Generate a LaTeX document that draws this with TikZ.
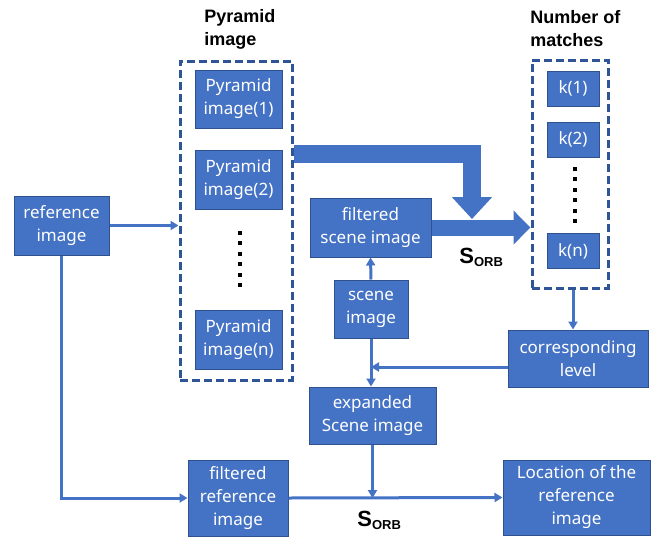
\documentclass[tikz,border=0pt]{standalone}
\usepackage{fontspec}
\setmainfont{Noto Sans}
\newfontfamily\headfont{Liberation Sans}
\usetikzlibrary{arrows.meta}

\definecolor{boxblue}{HTML}{4472C4}
\definecolor{boxedge}{HTML}{2F528F}
\definecolor{grpedge}{HTML}{2F5597}

\begin{document}
\begin{tikzpicture}[x=0.5pt, y=-0.5pt,
    blk/.style={draw=boxedge, line width=0.5pt, fill=boxblue, text=white, align=center, inner sep=0pt, node font=\fontsize{8.5}{11.5}\selectfont},
    grp/.style={draw=grpedge, line width=1.5pt, dash pattern=on 4pt off 2pt, inner sep=0pt},
    ttl/.style={anchor=west, align=left, inner sep=0pt, node font=\headfont\bfseries\fontsize{9}{11.5}\selectfont},
    sorb/.style={anchor=base west, inner sep=0pt, node font=\headfont\bfseries\fontsize{11}{12}\selectfont},
    link/.style={draw=boxblue, line width=1.5pt, -{Triangle[length=4pt,width=4.5pt]}},
    bigarr/.style={draw=boxblue, line width=9pt, line join=miter, -{Triangle[length=11pt,width=19.5pt]}},
    midarr/.style={draw=boxblue, line width=8pt, -{Triangle[length=8.5pt,width=16.5pt]}}]

    \useasboundingbox (0,0) rectangle (660,537);

    % pyramid column
    \node[grp, minimum width=56pt, minimum height=159.5pt] (pyrgrp) at (236,220.5) {};
    \node[ttl] (pyrttl) at (204,29) {Pyramid\\image};
    \node[blk, minimum width=43.5pt, minimum height=29pt] (pyr1) at (238.5,99) {Pyramid\\image(1)};
    \node[blk, minimum width=43.5pt, minimum height=29.5pt] (pyr2) at (238.5,179.5) {Pyramid\\image(2)};
    \node[blk, minimum width=43.5pt, minimum height=29.5pt] (pyrn) at (238.5,339.5) {Pyramid\\image(n)};
    \foreach \i in {0,...,5}
        \fill (238,231+10.4*\i) rectangle ++(4,4);

    % matches column
    \node[grp, minimum width=38pt, minimum height=114pt] (kgrp) at (570,174) {};
    \node[ttl] (kttl) at (530,29) {Number of\\matches};
    \node[blk, minimum width=26pt, minimum height=17.5pt] (k1) at (573,88.5) {k(1)};
    \node[blk, minimum width=26pt, minimum height=17.5pt] (k2) at (573,139.5) {k(2)};
    \node[blk, minimum width=26pt, minimum height=17.5pt] (kn) at (573,251) {k(n)};
    \foreach \i in {0,...,5}
        \fill (573,167+10.4*\i) rectangle ++(4,4);

    % other blocks
    \node[blk, minimum width=47.5pt, minimum height=29.5pt] (refimg) at (61.5,225.5) {reference\\image};
    \node[blk, minimum width=60.5pt, minimum height=29.5pt] (filtscene) at (370.5,227.5) {filtered\\scene image};
    \node[blk, minimum width=37pt, minimum height=29pt] (scene) at (371,309) {scene\\image};
    \node[blk, minimum width=70pt, minimum height=28.5pt] (corr) at (578,358.5) {corresponding\\level};
    \node[blk, minimum width=63.5pt, minimum height=28.5pt] (expd) at (372.5,415.5) {expanded\\Scene image};
    \node[blk, minimum width=50pt, minimum height=38pt] (filtref) at (238,498) {filtered\\reference\\image};
    \node[blk, minimum width=73.5pt, minimum height=37.5pt] (loc) at (576.5,497.5) {Location of the\\reference\\image};

    \node[sorb] (sorbtop) at (459,263) {S\raisebox{-0.3ex}{\fontsize{6.5}{7}\selectfont ORB}};
    \node[sorb] (sorbbot) at (357,526) {S\raisebox{-0.3ex}{\fontsize{6.5}{7}\selectfont ORB}};

    % wide arrows
    \coordinate (bend) at (472,154);
    \coordinate (merge) at (472,219);
    \draw[bigarr] (pyrgrp.east |- bend) -- (bend) -- (merge);
    \draw[midarr] (filtscene.east) -- (filtscene.east -| kgrp.west);

    % thin arrows
    \draw[link] (refimg.east) -- (refimg.east -| pyrgrp.west);
    \draw[link] (refimg.south) |- (filtref.west);
    \draw[link] (filtref.east) -- (loc.west);
    \draw[link] (scene.north) -- (filtscene.south);
    \draw[link] (scene.south) -- (scene.south |- expd.north);
    \draw[link] (kgrp.south -| kn) -- (kn |- corr.north);
    \draw[link] ([yshift=-4.25pt]corr.west) -- ([yshift=-4.25pt]corr.west -| scene.south);
    \draw[link] (expd.south) -- (expd.south |- filtref.east);

\end{tikzpicture}
\end{document}
